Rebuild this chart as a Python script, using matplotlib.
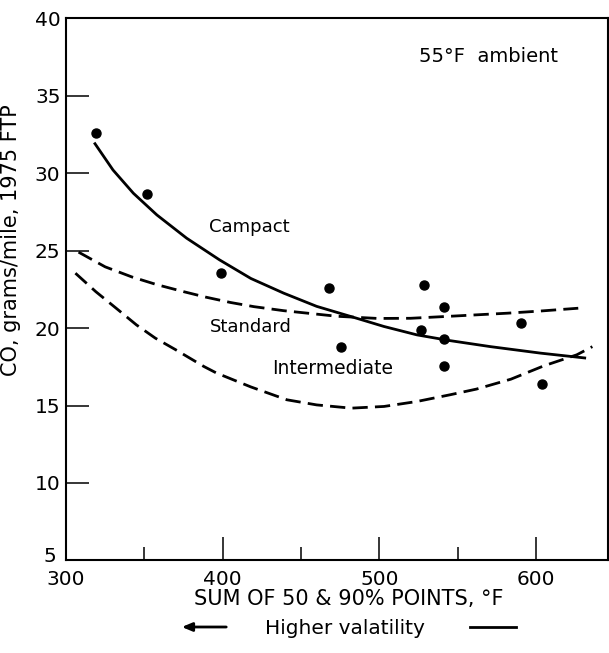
import matplotlib
matplotlib.use("Agg")
import matplotlib.pyplot as plt
from matplotlib.transforms import ScaledTranslation

# measured points (sum of 50 & 90% points, CO g/mile)
pts_x = [319, 352, 399, 467.6, 475.5, 526.8, 528.3, 541, 541, 541, 590.7, 604]
pts_y = [32.57, 28.66, 23.54, 22.61, 18.77, 19.9, 22.79, 21.36, 19.28, 17.52, 20.3, 16.4]

# curves
compact_x = [318, 330, 343, 358, 377, 398, 418, 439, 460, 482, 503, 524, 545, 571, 603, 632]
compact_y = [31.97, 30.2, 28.7, 27.3, 25.8, 24.4, 23.2, 22.25, 21.4, 20.74, 20.1, 19.56, 19.19, 18.8, 18.38, 18.06]

standard_x = [308, 325, 342, 358, 375, 389, 405, 420, 439, 473, 499, 520, 545, 582, 603, 627]
standard_y = [24.9, 23.95, 23.3, 22.8, 22.35, 22.0, 21.65, 21.38, 21.12, 20.76, 20.62, 20.63, 20.76, 20.96, 21.1, 21.28]

inter_x = [306, 319, 332, 345, 357, 370, 388, 396, 418, 441, 460, 482, 503, 524, 545, 562, 584, 605, 626, 636]
inter_y = [23.54, 22.35, 21.28, 20.2, 19.35, 18.6, 17.52, 17.1, 16.2, 15.37, 15.04, 14.83, 14.94, 15.26, 15.69, 16.06, 16.7, 17.56, 18.27, 18.8]

fig = plt.figure(figsize=(6.09, 6.53), dpi=100)
ax = fig.add_axes([0.1084, 0.1417, 0.89, 0.8305])

ax.plot(compact_x, compact_y, color="black", lw=2, solid_capstyle="butt")
ax.plot(standard_x, standard_y, color="black", lw=2, dashes=(5.5, 2.6))
ax.plot(inter_x, inter_y, color="black", lw=2, dashes=(5.5, 2.6))
ax.plot(pts_x, pts_y, "o", color="black", ms=6.5, linestyle="none")

ax.text(417, 26.55, "Campact", ha="center", va="center", fontsize=13)
ax.text(418, 20.07, "Standard", ha="center", va="center", fontsize=13)
ax.text(470, 17.4, "Intermediate", ha="center", va="center", fontsize=13.5)
ax.text(570, 37.5, "55°F  ambient", ha="center", va="center", fontsize=14)

ax.set_xlim(300, 646)
ax.set_ylim(5, 40)
ax.set_xticks([300, 400, 500, 600])
ax.set_xticks([350, 450, 550], minor=True)
ax.set_yticks(range(5, 41, 5))
ax.tick_params(axis="x", which="major", direction="in", length=16.5, width=1.1, labelsize=14.5, pad=7)
ax.tick_params(axis="x", which="minor", direction="in", length=9.5, width=1.1)
ax.tick_params(axis="y", direction="in", length=16.5, width=1.1, labelsize=14.5, pad=4)
for s in ax.spines.values():
    s.set_linewidth(1.5)

# the "5" sits slightly up and left, as in the original
lab5 = ax.yaxis.get_major_ticks()[0].label1
lab5.set_transform(lab5.get_transform() + ScaledTranslation(-3 / 72, 4 / 72, fig.dpi_scale_trans))

ax.set_ylabel("CO, grams/mile, 1975 FTP", fontsize=15)
ax.yaxis.set_label_coords(-0.083, 0.59)

fig.text(349 / 609, 1 - 599 / 653, "SUM OF 50 & 90% POINTS, °F", ha="center", va="center", fontsize=15)
fig.text(345 / 609, 1 - 629 / 653, "Higher valatility", ha="center", va="center", fontsize=14.5)
fig.patches.append(matplotlib.patches.FancyArrowPatch(
    (229 / 609, 1 - 627 / 653), (179 / 609, 1 - 627 / 653), transform=fig.transFigure,
    arrowstyle="-|>,head_length=6,head_width=2.5", color="black", lw=2, mutation_scale=1))
fig.add_artist(plt.Line2D([470 / 609, 516 / 609], [1 - 627 / 653, 1 - 627 / 653],
                          transform=fig.transFigure, color="black", lw=2))

fig.savefig("out.png", dpi=100)
